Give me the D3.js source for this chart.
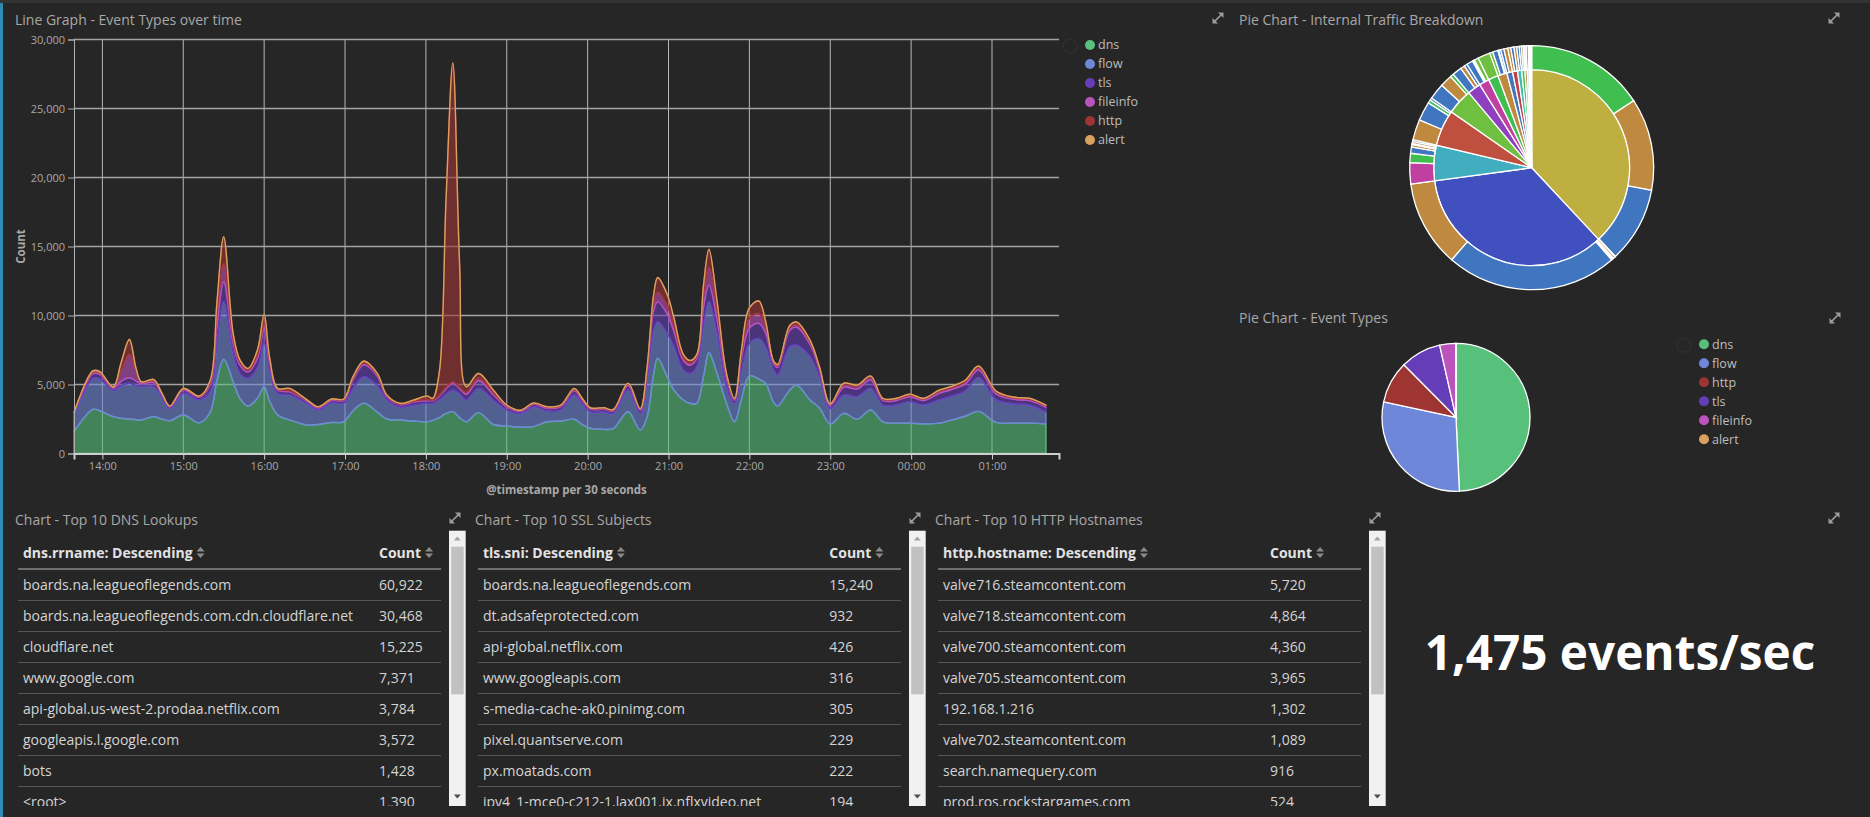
<!DOCTYPE html>
<html><head><meta charset="utf-8">
<script src="https://cdn.jsdelivr.net/npm/d3@7"></script>
<style>
html,body{margin:0;padding:0;background:#262626;overflow:hidden}
svg{display:block;font-family:"Open Sans",sans-serif}
</style></head><body>
<svg id="c" width="1870" height="817"></svg>
<script>
// ---------------- DATA ----------------
const times = ["13:39","13:53","13:58","14:08","14:14","14:20","14:25","14:29","14:38","14:44","14:50","15:00","15:12","15:20","15:25","15:30","15:37","15:42","15:48","15:55","16:00","16:04","16:10","16:19","16:32","16:40","16:50","16:59","17:06","17:14","17:24","17:31","17:41","17:51","18:01","18:05","18:10","18:15","18:20","18:25","18:30","18:39","18:50","19:00","19:10","19:20","19:30","19:40","19:50","19:56","20:02","20:12","20:19","20:30","20:39","20:44","20:49","20:52","20:59","21:04","21:11","21:16","21:21","21:26","21:30","21:36","21:43","21:49","21:54","22:00","22:07","22:12","22:18","22:21","22:30","22:35","22:45","22:52","23:00","23:10","23:20","23:30","23:39","23:49","23:59","00:09","00:21","00:29","00:40","00:50","01:03","01:16","01:28","01:40"];
const dns = [1600,3200,3100,2670,2550,2500,2450,2430,2670,2500,2380,2790,2230,3000,5300,6830,5200,4000,3440,4000,4840,3800,2800,2430,2060,2100,2250,2300,3100,3640,3000,2500,2430,2350,2300,2400,2600,2900,3030,2600,2300,2960,2100,2000,1900,1950,2300,2350,2480,2100,1830,1750,1800,3030,1700,2600,5800,6900,5560,4600,3880,3640,3640,5600,7300,5800,3640,2300,3880,5620,5400,5090,3700,3440,4600,4960,3880,3300,2140,2910,2480,3150,2300,2200,2200,2150,2200,2400,2700,3050,2250,2200,2200,2150];
const flow = [1200,2250,2300,1900,2350,2590,2450,2410,2170,1600,870,1570,1650,1500,2700,4170,2100,1800,2010,2200,3160,2200,1560,1810,1540,1050,1400,1350,1600,1920,1900,1400,920,1150,1340,1200,1300,1400,1570,1700,1580,1760,1780,1140,1000,1440,790,790,1760,1500,1190,1250,1100,1570,1200,2700,3150,2640,3140,3130,2160,2160,2640,3700,3700,2900,1200,1340,2020,2350,2930,2640,2340,2240,3130,2890,3120,2260,1120,1330,1640,1570,1210,1310,1560,1360,1680,1720,1800,2450,1650,1400,1300,850];
const tls = [120,330,330,160,350,400,350,220,300,200,120,240,190,500,1200,1450,700,600,450,700,1000,600,220,220,180,150,190,190,650,860,700,220,180,220,200,200,250,400,490,400,400,550,380,220,150,170,190,230,300,250,200,200,190,330,230,500,1400,1450,1400,1100,700,600,600,1300,1200,1000,600,220,900,1100,1100,1000,450,550,1200,1300,900,520,220,550,550,600,330,330,350,330,480,480,520,550,420,320,330,350];
const fileinfo = [50,120,120,60,800,1700,700,100,120,70,50,80,70,150,900,1330,300,200,150,250,400,200,80,80,60,60,70,70,120,130,100,70,60,70,70,60,80,100,100,100,150,200,150,80,60,60,70,80,100,80,60,60,60,100,70,150,600,700,600,450,200,180,150,1000,1300,700,200,80,300,700,700,500,120,130,200,200,170,120,80,200,200,200,100,100,110,100,150,150,170,170,130,100,100,100];
const http = [20,70,70,30,550,1050,190,30,90,20,10,30,20,130,870,1900,380,180,100,330,680,180,50,170,30,20,30,30,100,130,90,40,40,80,250,130,1700,13700,23090,8900,400,330,180,60,20,30,30,50,70,60,30,50,30,50,40,200,570,1040,820,540,220,150,130,630,1280,640,150,50,300,780,910,350,70,80,150,170,120,60,30,90,80,90,50,50,70,50,80,80,100,110,70,60,60,40];
const alert = [10,30,30,20,30,35,30,10,26,10,10,10,10,20,30,30,20,20,20,20,20,20,10,10,10,10,10,10,20,20,20,10,10,10,10,10,10,20,20,20,10,20,10,10,10,10,10,10,10,10,10,10,10,10,10,20,20,20,20,20,20,20,20,20,20,20,20,10,20,20,20,20,20,20,20,20,20,20,10,10,10,10,10,10,10,10,10,10,10,10,10,10,10,10];
const seriesNames = ["dns","flow","tls","fileinfo","http","alert"];
const yTicks = [0,5000,10000,15000,20000,25000,30000];
const xDomainTimes = ["13:38:56","01:49:42"];

const eventTypeNames = ["dns","flow","http","tls","fileinfo","alert"];
const eventTypeValues = [49.3,29.1,9.2,8.9,3.5,0.05];

const trafficInnerValues = [137,125.3,21,21.5,15.2,8,6,5.9,5.4,3.4,2.9,2.5,1.9,1.4,1.0,0.8,0.5,0.3];
const trafficInnerKeys   = ["O","I","Q","R","L","V","M","G","T","B","K","C","G","T","B","V","C","P"];
const trafficOuterValues = [56.7,44,36,0.3, 1.0,0.6,0.5,81.9,41.3, 10.1,4.4,3,1.2,0.5,1.0,0.8, 9.8,9,1.6,1.1, 7.7,5.9,1.6, 4.5,2.0,1.5, 3.0,0.5,0.5,2.0, 5.9, 1.5,2.5,0.5,0.9, 1.5,1.9, 1.4,1.5, 1.3,1.2, 1.0,0.9, 0.7,0.7, 1.0, 0.4,0.4, 0.5, 0.3];
const trafficOuterKeys   = ["G","T","B","M", "T","G","B","B","T", "M","G","B","T","M","T","B", "T","B","G","B", "B","T","G", "B","T","B", "B","T","G","L", "L", "L","B","C","B", "B","T", "T","B", "T","B", "B","T", "V","B", "B", "C","B", "B", "T"];

const dnsNames = ["boards.na.leagueoflegends.com","boards.na.leagueoflegends.com.cdn.cloudflare.net","cloudflare.net","www.google.com","api-global.us-west-2.prodaa.netflix.com","googleapis.l.google.com","bots","<root>"];
const dnsCounts = [60922,30468,15225,7371,3784,3572,1428,1390];
const sslNames = ["boards.na.leagueoflegends.com","dt.adsafeprotected.com","api-global.netflix.com","www.googleapis.com","s-media-cache-ak0.pinimg.com","pixel.quantserve.com","px.moatads.com","ipv4_1-mce0-c212-1.lax001.ix.nflxvideo.net"];
const sslCounts = [15240,932,426,316,305,229,222,194];
const httpNames = ["valve716.steamcontent.com","valve718.steamcontent.com","valve700.steamcontent.com","valve705.steamcontent.com","192.168.1.216","valve702.steamcontent.com","search.namequery.com","prod.ros.rockstargames.com"];
const httpCounts = [5720,4864,4360,3965,1302,1089,916,524];
const eventsPerSec = 1475;

// ---------------- STYLE ----------------
const seriesColor = {dns:"#57c17b",flow:"#6f87d8",tls:"#663db8",fileinfo:"#bc52bc",http:"#9e3533",alert:"#daa05d"};
const pal = {O:"#bfae40",I:"#4050bf",Q:"#40aebf",R:"#bf5040",L:"#6fbf40",V:"#8f40bf",M:"#bf40a0",G:"#40bf50",T:"#bf8a40",B:"#4076bf",K:"#bf4048",C:"#40bfaf",P:"#6040bf"};
const TXT = "#a8a8a8";

const svg = d3.select("#c");
svg.append("rect").attr("width",1870).attr("height",817).attr("fill","#262626");
svg.append("rect").attr("width",1870).attr("height",3).attr("fill","#333333");
svg.append("rect").attr("x",0).attr("y",3).attr("width",3).attr("height",814).attr("fill","#2d8cb3");

function parseT(s){
  const p = s.split(":").map(Number);
  return new Date(2016,0,p[0]<12?2:1,p[0],p[1],p[2]||0);
}
function title(x,y,t){
  svg.append("text").attr("x",x).attr("y",y).attr("fill",TXT).attr("font-size",14).text(t);
}
function expandIcon(cx,cy){
  const g = svg.append("g").attr("transform",`translate(${cx},${cy})`).attr("fill","#9c9c9c");
  g.append("line").attr("x1",-3.5).attr("y1",3.5).attr("x2",3.5).attr("y2",-3.5).attr("stroke","#9c9c9c").attr("stroke-width",1.7);
  g.append("path").attr("d","M5.5,-5.5 L0,-5.5 L5.5,0Z");
  g.append("path").attr("d","M-5.5,5.5 L0,5.5 L-5.5,0Z");
}

// ---------------- LINE GRAPH ----------------
title(15,25,"Line Graph - Event Types over time");
expandIcon(1218,18);

const x = d3.scaleTime().domain(xDomainTimes.map(parseT)).range([74,1059]);
const y = d3.scaleLinear().domain([0,30000]).range([453.5,39.5]);

const rows = times.map((t,i)=>({date:parseT(t),dns:dns[i],flow:flow[i],tls:tls[i],fileinfo:fileinfo[i],http:http[i],alert:alert[i]}));
const stacked = d3.stack().keys(seriesNames)(rows);

const lg = svg.append("g");
// grid
const hourTicks = x.ticks(d3.timeHour.every(1));
lg.append("g").selectAll("line").data(hourTicks).join("line")
  .attr("x1",d=>x(d)).attr("x2",d=>x(d)).attr("y1",39.5).attr("y2",453.5)
  .attr("stroke","#d2d2d2").attr("stroke-width",1).attr("opacity",0.85);
lg.append("g").selectAll("line").data(yTicks.slice(1)).join("line")
  .attr("x1",74).attr("x2",1059).attr("y1",d=>y(d)).attr("y2",d=>y(d))
  .attr("stroke","#a3a3a3").attr("stroke-width",1.5);

const area = d3.area().x(d=>x(d.data.date)).y0(d=>y(d[0])).y1(d=>y(d[1])).curve(d3.curveCatmullRom.alpha(0.5));
lg.append("g").selectAll("path").data(stacked).join("path")
  .attr("d",area)
  .attr("fill",d=>seriesColor[d.key]).attr("fill-opacity",0.6)
  .attr("stroke",d=>seriesColor[d.key]).attr("stroke-width",1.4).attr("stroke-linejoin","round");

// axes
const yAxis = lg.append("g").attr("transform","translate(74,0)")
  .call(d3.axisLeft(y).tickValues(yTicks).tickFormat(d3.format(",")).tickSize(6).tickPadding(3));
yAxis.select(".domain").attr("stroke","#b0b0b0");
yAxis.selectAll(".tick line").attr("stroke","#b0b0b0");
yAxis.selectAll("text").attr("fill",TXT).attr("font-size",11).attr("font-family","Open Sans");

const xAxis = lg.append("g").attr("transform","translate(0,453.5)")
  .call(d3.axisBottom(x).ticks(d3.timeHour.every(1)).tickFormat(d3.timeFormat("%H:%M")).tickSize(6).tickSizeOuter(6).tickPadding(3));
xAxis.select(".domain").attr("stroke","#cfcfcf").attr("stroke-width",2);
xAxis.selectAll(".tick line").attr("stroke","#cfcfcf");
xAxis.selectAll("text").attr("fill",TXT).attr("font-size",11).attr("font-family","Open Sans");

lg.append("text").attr("transform","translate(24.5,246.5) rotate(-90)").attr("text-anchor","middle")
  .attr("fill",TXT).attr("font-size",11.5).attr("font-weight","bold").text("Count");
lg.append("text").attr("x",566.5).attr("y",494).attr("text-anchor","middle")
  .attr("fill",TXT).attr("font-size",11.5).attr("font-weight","bold").text("@timestamp per 30 seconds");

// legend
function legend(x0,y0,names){
  svg.append("circle").attr("cx",x0-20).attr("cy",y0+1).attr("r",7).attr("fill","none").attr("stroke","#2e2e2e").attr("stroke-width",1.5);
  const g = svg.append("g");
  names.forEach((n,i)=>{
    g.append("circle").attr("cx",x0).attr("cy",y0+i*19).attr("r",5).attr("fill",seriesColor[n]);
    g.append("text").attr("x",x0+8).attr("y",y0+i*19+4.3).attr("fill","#bdbdbd").attr("font-size",12.5).text(n);
  });
}
legend(1090,45,seriesNames);

// ---------------- PIE: INTERNAL TRAFFIC ----------------
title(1239,25,"Pie Chart - Internal Traffic Breakdown");
expandIcon(1834,18);
const pie = d3.pie().sort(null).value(d=>d);
const p1 = svg.append("g").attr("transform","translate(1531.7,167.7)");
const innerArcs = pie(trafficInnerValues);
p1.selectAll("path.in").data(innerArcs).join("path").attr("class","in")
  .attr("d",d3.arc().innerRadius(0).outerRadius(98))
  .attr("fill",(d,i)=>pal[trafficInnerKeys[i]]).attr("stroke","#ffffff").attr("stroke-width",1.3);
const outerArcs = pie(trafficOuterValues);
p1.selectAll("path.out").data(outerArcs).join("path").attr("class","out")
  .attr("d",d3.arc().innerRadius(98).outerRadius(122))
  .attr("fill",(d,i)=>pal[trafficOuterKeys[i]]).attr("stroke","#ffffff").attr("stroke-width",1.3);

// ---------------- PIE: EVENT TYPES ----------------
title(1239,323,"Pie Chart - Event Types");
expandIcon(1835,318);
const p2 = svg.append("g").attr("transform","translate(1456,417.3)");
p2.selectAll("path").data(pie(eventTypeValues)).join("path")
  .attr("d",d3.arc().innerRadius(0).outerRadius(74))
  .attr("fill",(d,i)=>seriesColor[eventTypeNames[i]]).attr("stroke","#ffffff").attr("stroke-width",1.3);
legend(1704,344.3,eventTypeNames);

// ---------------- TABLES ----------------
const fmt = d3.format(",");
const tables = [
  {title:"Chart - Top 10 DNS Lookups",head:"dns.rrname: Descending",names:dnsNames,counts:dnsCounts,countX:379},
  {title:"Chart - Top 10 SSL Subjects",head:"tls.sni: Descending",names:sslNames,counts:sslCounts,countX:369.3},
  {title:"Chart - Top 10 HTTP Hostnames",head:"http.hostname: Descending",names:httpNames,counts:httpCounts,countX:350}
];
const defs = svg.append("defs");
function sortIcon(g,cx,cy){
  g.append("path").attr("d",`M${cx-4},${cy-1} L${cx+4},${cy-1} L${cx},${cy-5.5}Z M${cx-4},${cy+1} L${cx+4},${cy+1} L${cx},${cy+5.5}Z`).attr("fill","#8a8a8a");
}
tables.forEach((t,k)=>{
  const ox = 460*k;
  title(15+ox,525,t.title);
  expandIcon(455+ox,518);
  defs.append("clipPath").attr("id","clip"+k).append("rect").attr("x",ox).attr("y",531).attr("width",449).attr("height",275);
  const g = svg.append("g").attr("clip-path",`url(#clip${k})`);
  const h1 = g.append("text").attr("x",23+ox).attr("y",557.5).attr("fill","#e2e2e2").attr("font-size",14).attr("font-weight","bold").text(t.head);
  sortIcon(g,23+ox+h1.node().getComputedTextLength()+8,552.5);
  const h2 = g.append("text").attr("x",ox+t.countX).attr("y",557.5).attr("fill","#e2e2e2").attr("font-size",14).attr("font-weight","bold").text("Count");
  sortIcon(g,ox+t.countX+h2.node().getComputedTextLength()+8,552.5);
  g.append("line").attr("x1",18+ox).attr("x2",441+ox).attr("y1",569).attr("y2",569).attr("stroke","#6e6e6e").attr("stroke-width",2);
  t.names.forEach((n,i)=>{
    const cy = 585+i*31;
    g.append("text").attr("x",23+ox).attr("y",cy+5).attr("fill","#d4d4d4").attr("font-size",14).text(n);
    g.append("text").attr("x",ox+t.countX).attr("y",cy+5).attr("fill","#d4d4d4").attr("font-size",14).text(fmt(t.counts[i]));
    g.append("line").attr("x1",18+ox).attr("x2",441+ox).attr("y1",cy+15.5).attr("y2",cy+15.5).attr("stroke","#555555").attr("stroke-width",1);
  });
  // scrollbar
  const sx = 449+ox;
  svg.append("rect").attr("x",sx).attr("y",530.7).attr("width",16.7).attr("height",275.3).attr("fill","#f1f1f1");
  svg.append("rect").attr("x",sx+2.2).attr("y",546.7).attr("width",12.5).attr("height",147.6).attr("fill","#c1c1c1");
  svg.append("path").attr("d",`M${sx+4.8},${540.5} L${sx+11.8},${540.5} L${sx+8.3},${536.5}Z`).attr("fill","#a3a3a3");
  svg.append("path").attr("d",`M${sx+4.8},${794.5} L${sx+11.8},${794.5} L${sx+8.3},${798.5}Z`).attr("fill","#505050");
});

// ---------------- METRIC ----------------
expandIcon(1834,518);
svg.append("text").attr("x",1620).attr("y",670).attr("text-anchor","middle").attr("fill","#ffffff")
  .attr("font-size",47.7).attr("font-weight","bold").text(fmt(eventsPerSec)+" events/sec");
</script>
</body></html>
